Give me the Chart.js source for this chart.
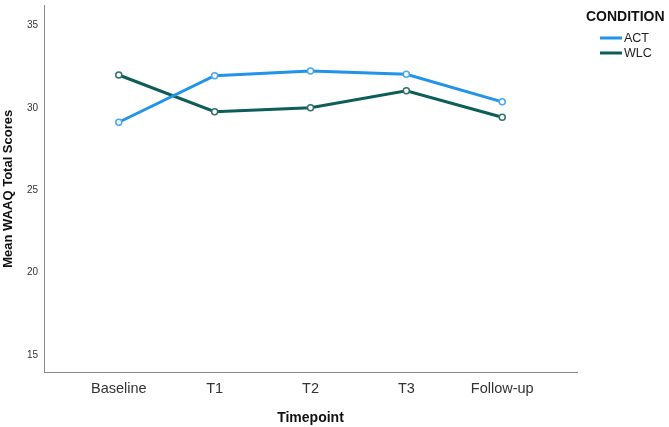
<!DOCTYPE html>
<html>
<head>
<meta charset="utf-8">
<script src="https://cdn.jsdelivr.net/npm/chart.js@4"></script>
<style>
  html, body { margin: 0; padding: 0; background: #fff; }
  #chart { display: block; }
</style>
</head>
<body>
<canvas id="chart" width="669" height="427"></canvas>
<script>
// values
const timepoints = ['Baseline', 'T1', 'T2', 'T3', 'Follow-up'];
const actScores = [29.13, 31.96, 32.24, 32.04, 30.37];
const wlcScores = [32.0, 29.77, 30.01, 31.04, 29.43];
const yTicks = [15, 20, 25, 30, 35];
const legendTitle = 'CONDITION';

const FONT = "'Liberation Sans', Arial, sans-serif";
const ACT_COLOR = '#1f94e8';
const WLC_COLOR = '#0d5e59';

function toPoints(arr) {
    return arr.map((v, i) => ({ x: i, y: v }));
}

// legend drawn on the right like the original
const sideLegend = {
    id: 'sideLegend',
    afterDraw(chart) {
        const ctx = chart.ctx;
        ctx.save();
        ctx.fillStyle = '#111';
        ctx.font = 'bold 14px ' + FONT;
        ctx.textBaseline = 'middle';
        ctx.textAlign = 'left';
        ctx.fillText(legendTitle, 586, 17);

        ctx.font = '12.5px ' + FONT;
        chart.data.datasets.forEach((ds, i) => {
            const y = 38 + i * 15;
            ctx.strokeStyle = ds.borderColor;
            ctx.lineWidth = 3;
            ctx.beginPath();
            ctx.moveTo(600, y);
            ctx.lineTo(622, y);
            ctx.stroke();
            ctx.fillStyle = '#222';
            ctx.fillText(ds.label, 624, y + 1);
        });
        ctx.restore();
    }
};

const ctx = document.getElementById('chart').getContext('2d');
new Chart(ctx, {
    type: 'line',
    data: {
        datasets: [{
            label: 'ACT',
            data: toPoints(actScores),
            borderColor: ACT_COLOR,
            borderWidth: 3,
            tension: 0,
            pointRadius: 3,
            pointBorderWidth: 1.5,
            pointBorderColor: '#4aa8ec',
            pointBackgroundColor: '#fff'
        }, {
            label: 'WLC',
            data: toPoints(wlcScores),
            borderColor: WLC_COLOR,
            borderWidth: 3,
            tension: 0,
            pointRadius: 3,
            pointBorderWidth: 1.5,
            pointBorderColor: '#336f6b',
            pointBackgroundColor: '#fff'
        }]
    },
    options: {
        responsive: false,
        animation: false,
        layout: { padding: { top: 3, right: 92, left: 0, bottom: 0 } },
        plugins: {
            legend: { display: false },
            tooltip: { enabled: false }
        },
        scales: {
            x: {
                type: 'linear',
                min: -0.78,
                max: 4.78,
                grid: { display: false, drawTicks: false },
                border: { display: true, color: '#8a8a8a', width: 1 },
                afterBuildTicks: scale => {
                    scale.ticks = timepoints.map((_, i) => ({ value: i }));
                },
                afterFit: scale => {
                    scale.height = 55;
                    scale.paddingLeft = 0;
                    scale.paddingRight = 0;
                },
                ticks: {
                    autoSkip: false,
                    maxRotation: 0,
                    padding: 8,
                    color: '#333',
                    font: { family: FONT, size: 14.5 },
                    callback: v => timepoints[v] || ''
                },
                title: {
                    display: true,
                    text: 'Timepoint',
                    color: '#111',
                    font: { family: FONT, size: 14, weight: 'bold' },
                    padding: { top: 4.6, bottom: 0 }
                }
            },
            y: {
                min: 13.96,
                max: 36.22,
                grid: { display: false, drawTicks: false },
                border: { display: true, color: '#8a8a8a', width: 1 },
                afterBuildTicks: scale => {
                    scale.ticks = yTicks.map(v => ({ value: v }));
                },
                afterFit: scale => {
                    scale.width = 44;
                    scale.paddingTop = 0;
                    scale.paddingBottom = 0;
                },
                ticks: {
                    padding: 6,
                    color: '#333',
                    font: { family: FONT, size: 10 }
                },
                title: {
                    display: true,
                    text: 'Mean WAAQ Total Scores',
                    color: '#111',
                    font: { family: FONT, size: 13, weight: 'bold' },
                    padding: { top: 0.5, bottom: 0 }
                }
            }
        }
    },
    plugins: [sideLegend]
});
</script>
</body>
</html>
